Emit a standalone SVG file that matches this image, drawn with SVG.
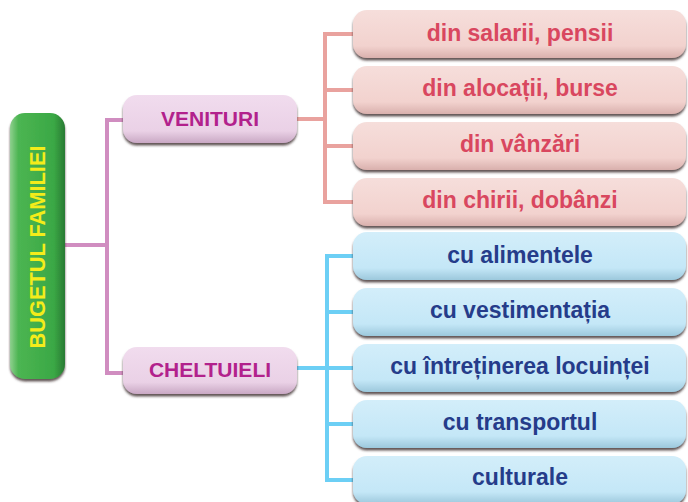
<svg xmlns="http://www.w3.org/2000/svg" width="688" height="502" viewBox="0 0 688 502">
<style>
.conn{fill:none;stroke-width:4;stroke-linecap:butt;stroke-linejoin:miter}
.t{font-family:"Liberation Sans",Arial,sans-serif;font-weight:700;text-anchor:middle}
.pk{fill:#d9475f;font-size:23px}
.bl{fill:#253c8a;font-size:23px}
.mg{fill:#b2218c;font-size:21px}
.yl{fill:#f4ec1a;font-size:21.8px}
</style>
<defs>
<filter id="sh" x="-10%" y="-20%" width="120%" height="150%">
<feDropShadow dx="0" dy="2.5" stdDeviation="1.2" flood-color="#3a2a2a" flood-opacity="0.8"/>
</filter>
<linearGradient id="gPink" x1="0" y1="0" x2="0" y2="1">
<stop offset="0" stop-color="#f6dedb"/><stop offset="0.75" stop-color="#f2d2ce"/><stop offset="1" stop-color="#d9b0ad"/>
</linearGradient>
<linearGradient id="gBlue" x1="0" y1="0" x2="0" y2="1">
<stop offset="0" stop-color="#d3eefa"/><stop offset="0.75" stop-color="#c4e7f7"/><stop offset="1" stop-color="#9cc8dc"/>
</linearGradient>
<linearGradient id="gPurp" x1="0" y1="0" x2="0" y2="1">
<stop offset="0" stop-color="#f1dcee"/><stop offset="0.75" stop-color="#ead1e6"/><stop offset="1" stop-color="#c9a8c4"/>
</linearGradient>
<linearGradient id="gGreen" x1="0" y1="0" x2="1" y2="0">
<stop offset="0" stop-color="#8fd08f"/><stop offset="0.15" stop-color="#4cb552"/><stop offset="0.8" stop-color="#3aa845"/><stop offset="1" stop-color="#2a7a33"/>
</linearGradient>
</defs>

<g id="connectors">
<path class="conn" stroke="#d08dc0" d="M65 245H107M123 120H107V373H123"/>
<path class="conn" stroke="#e9a29e" d="M297 119H325M353 34H325V202H353M325 90H353M325 146H353"/>
<path class="conn" stroke="#6ccff5" d="M297 368H327M353 256H327V480H353M327 312H353M327 368H353M327 424H353"/>
</g>

<g id="root">
<rect x="10" y="113" width="55" height="266" rx="15" fill="url(#gGreen)" filter="url(#sh)"/>
<text class="t yl" transform="translate(45 247) rotate(-90)">BUGETUL FAMILIEI</text>
</g>

<g id="venituri">
<rect x="123" y="95" width="174" height="48" rx="14" fill="url(#gPurp)" filter="url(#sh)"/>
<text class="t mg" x="210" y="126">VENITURI</text>
</g>
<g id="cheltuieli">
<rect x="123" y="347" width="174" height="47" rx="14" fill="url(#gPurp)" filter="url(#sh)"/>
<text class="t mg" x="210" y="377">CHELTUIELI</text>
</g>

<g id="v1"><rect x="353" y="10" width="333" height="48" rx="14" fill="url(#gPink)" filter="url(#sh)"/><text class="t pk" x="520" y="41">din salarii, pensii</text></g>
<g id="v2"><rect x="353" y="66" width="333" height="48" rx="14" fill="url(#gPink)" filter="url(#sh)"/><text class="t pk" x="520" y="96">din alocații, burse</text></g>
<g id="v3"><rect x="353" y="122" width="333" height="48" rx="14" fill="url(#gPink)" filter="url(#sh)"/><text class="t pk" x="520" y="152">din vânzări</text></g>
<g id="v4"><rect x="353" y="178" width="333" height="48" rx="14" fill="url(#gPink)" filter="url(#sh)"/><text class="t pk" x="520" y="208">din chirii, dobânzi</text></g>

<g id="c1"><rect x="353" y="232" width="333" height="48" rx="14" fill="url(#gBlue)" filter="url(#sh)"/><text class="t bl" x="520" y="263">cu alimentele</text></g>
<g id="c2"><rect x="353" y="288" width="333" height="48" rx="14" fill="url(#gBlue)" filter="url(#sh)"/><text class="t bl" x="520" y="318">cu vestimentația</text></g>
<g id="c3"><rect x="353" y="344" width="333" height="48" rx="14" fill="url(#gBlue)" filter="url(#sh)"/><text class="t bl" x="520" y="374">cu întreținerea locuinței</text></g>
<g id="c4"><rect x="353" y="400" width="333" height="48" rx="14" fill="url(#gBlue)" filter="url(#sh)"/><text class="t bl" x="520" y="430">cu transportul</text></g>
<g id="c5"><rect x="353" y="456" width="333" height="48" rx="14" fill="url(#gBlue)" filter="url(#sh)"/><text class="t bl" x="520" y="485">culturale</text></g>
</svg>
